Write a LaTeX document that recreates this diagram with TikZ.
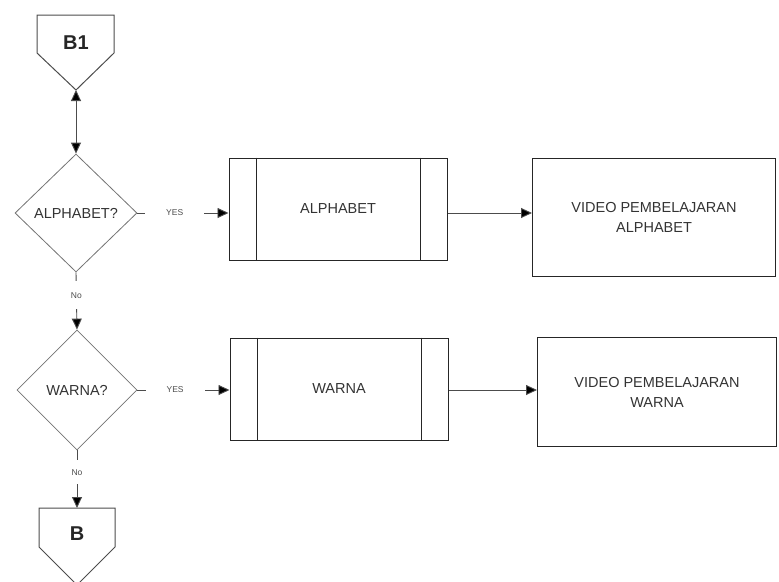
\documentclass[tikz,border=0pt]{standalone}
\usepackage{fontspec}
\setmainfont{Liberation Sans}
\usetikzlibrary{shapes.geometric,arrows.meta}

\begin{document}
\begin{tikzpicture}[x=1pt,y=-1pt,
    decision/.style={diamond,draw=black!55,line width=0.8pt,inner sep=0pt,
        minimum width=122pt,minimum height=118pt,
        font=\fontsize{14.5}{17}\selectfont,text=black!80},
    process/.style={rectangle,draw=black!85,line width=1pt,
        minimum width=218pt,minimum height=102pt,
        font=\fontsize{14.5}{17}\selectfont,text=black!80},
    video/.style={rectangle,draw=black!85,line width=1pt,align=center,
        font=\fontsize{14.5}{20}\selectfont,text=black!80},
    page/.style={inner sep=0pt,font=\fontsize{20}{24}\selectfont\bfseries,text=black!85},
    pageline/.style={draw=black!70,line width=1pt},
    tag/.style={fill=white,inner sep=0pt,font=\fontsize{8.5}{10}\selectfont,text=black!70},
    link/.style={draw=black!70,line width=0.9pt,-{Triangle[length=11pt,width=10pt,fill=black]}}]

    \useasboundingbox (0,0) rectangle (779,581);

    % Place the nodes
    \node[page] (b1) at (76,43) {B1};
    \draw[pageline] (37,15) -- (114,15) -- (114,53) -- (76,90) -- (37,53) -- cycle;
    \coordinate (b1tip) at (76,90);

    \node[decision] (d1) at (76,213) {ALPHABET?};
    \node[process] (p1) at (338,209) {ALPHABET};
    \node[video,minimum width=243pt,minimum height=118pt] (v1) at (654,217) {VIDEO PEMBELAJARAN\\ALPHABET};

    \node[decision,minimum width=120pt,minimum height=120pt] (d2) at (77,390) {WARNA?};
    \node[process] (p2) at (339,389) {WARNA};
    \node[video,minimum width=239pt,minimum height=109pt] (v2) at (657,392) {VIDEO PEMBELAJARAN\\WARNA};

    \node[page] (b) at (77,534) {B};
    \draw[pageline] (39,508) -- (115,508) -- (115,547) -- (77,585) -- (39,547) -- cycle;
    \coordinate (btop) at (77,508);

    % Side bars of the process boxes
    \foreach \p in {p1,p2} {
        \draw[black!85,line width=1pt] ([xshift=28pt]\p.north west) -- ([xshift=28pt]\p.south west);
        \draw[black!85,line width=1pt] ([xshift=-27pt]\p.north east) -- ([xshift=-27pt]\p.south east);
    }

    % Draw the lines
    \draw[link,{Triangle[length=11pt,width=10pt,fill=black]}-{Triangle[length=11pt,width=10pt,fill=black]}] (b1tip) -- (d1.north);
    \draw[link] (d1.east) -- node[tag,pos=0.41,inner xsep=21pt]{YES} (d1.east -| p1.west);
    \draw[link] (d1.east -| p1.east) -- (d1.east -| v1.west);
    \draw[link] (d1.south) -- node[tag,pos=0.4,inner ysep=11pt]{No} (d2.north);

    \draw[link] (d2.east) -- node[tag,pos=0.41,inner xsep=21pt]{YES} (d2.east -| p2.west);
    \draw[link] (d2.east -| p2.east) -- (d2.east -| v2.west);
    \draw[link] (d2.south) -- node[tag,pos=0.38,inner ysep=9pt]{No} (btop);

\end{tikzpicture}
\end{document}
